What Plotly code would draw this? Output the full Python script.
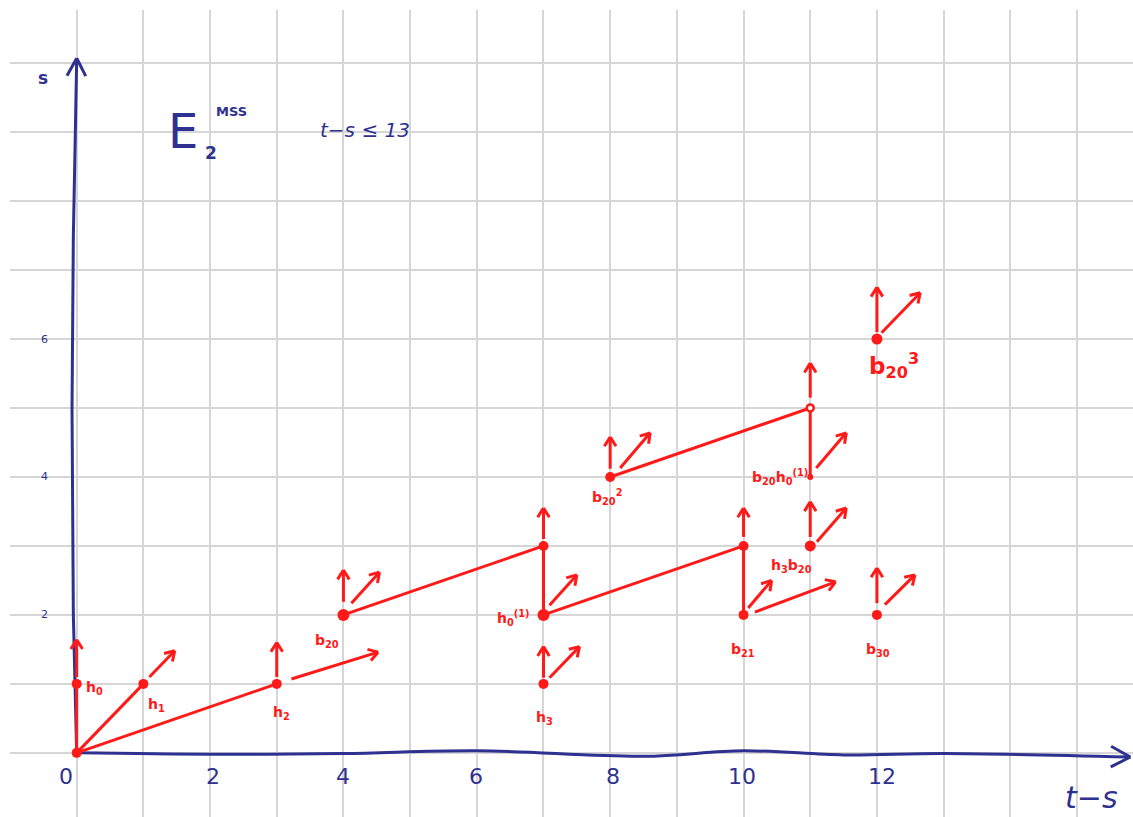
import numpy as np
import plotly.graph_objects as go

# ---- E2 page of the spectral sequence (t-s on x, s on y) ----
# classes (dots)
dot_ts = [0, 0, 1, 3, 4, 7, 7, 7, 8, 10, 10, 11, 11, 12, 12]
dot_s = [0, 1, 1, 1, 2, 1, 2, 3, 4, 2, 3, 3, 4, 2, 6]
dot_size = [10, 10, 10, 10, 12, 10, 12, 10, 10, 10, 10, 11, 6, 10, 11]

# open class at (11, 5)
open_ts = [11]
open_s = [5]

# multiplication lines: (ts0, s0, ts1, s1)
line_ts0 = [0, 0, 0, 4, 7, 7, 10, 8, 11]
line_s0 = [0, 0, 0, 2, 2, 2, 2, 4, 4]
line_ts1 = [0, 1, 3, 7, 7, 10, 10, 11, 11]
line_s1 = [1, 1, 1, 3, 3, 3, 3, 5, 5]

# arrows continuing towers / products: tail -> tip
arr_ts0 = [0, 1.09, 3, 3.22, 4, 4.12, 7, 7.09, 7.09, 7, 10.07, 10.17, 10, 8, 8.15,
           11, 11.09, 11, 11.1, 12, 12.12, 12, 12.07]
arr_s0 = [1.1, 1.1, 1.1, 1.07, 2.19, 2.17, 1.09, 1.09, 2.14, 3.1, 2.1, 2.04, 3.13, 4.12, 4.13,
          5.15, 4.13, 3.13, 3.06, 2.17, 2.15, 6.1, 6.09]
arr_ts1 = [0, 1.47, 3, 4.52, 4, 4.54, 7, 7.54, 7.5, 7, 10.42, 11.38, 10, 8, 8.6,
           11, 11.54, 11, 11.54, 12, 12.57, 12, 12.65]
arr_s1 = [1.64, 1.48, 1.6, 1.46, 2.65, 2.62, 1.54, 1.54, 2.58, 3.55, 2.5, 2.48, 3.55, 4.58, 4.64,
          5.65, 4.64, 3.64, 3.55, 2.68, 2.58, 6.75, 6.67]

# class names
lab_text = ["h<sub>0</sub>", "h<sub>1</sub>", "h<sub>2</sub>", "b<sub>20</sub>", "h<sub>3</sub>",
            "h<sub>0</sub><sup>(1)</sup>", "b<sub>21</sub>", "b<sub>30</sub>",
            "h<sub>3</sub>b<sub>20</sub>", "b<sub>20</sub>h<sub>0</sub><sup>(1)</sup>",
            "b<sub>20</sub><sup>2</sup>"]
lab_ts = [0.27, 1.2, 3.07, 3.75, 7.02, 6.55, 9.99, 12.01, 10.72, 10.55, 7.96]
lab_s = [0.94, 0.7, 0.58, 1.62, 0.51, 1.95, 1.49, 1.49, 2.71, 4.0, 3.71]

# hand-drawn axes (waypoints)
xaxis_ts = [0, 2, 4, 6, 8.5, 10, 11.5, 13, 15.8]
xaxis_s = [0, -0.02, -0.01, 0.03, -0.05, 0.03, -0.03, -0.01, -0.06]
yaxis_ts = [0.0, -0.05, -0.07, -0.05, -0.02, 0.0]
yaxis_s = [0.0, 2.0, 5.0, 7.5, 9.0, 10.07]

# axis labels
xtick_vals = [0, 2, 4, 6, 8, 10, 12]
xtick_pos = [-0.16, 2.04, 3.99, 5.99, 8.04, 9.98, 12.07]
ytick_vals = [2, 4, 6]

RED = "#FF1A1A"
BLUE = "#2E318F"
FONT = "DejaVu Sans"
W, H = 1133, 817
ML, MR, MT, MB = 10, 0, 10, 0
X_RANGE = [-1.0, 15.84]
Y_RANGE = [-0.93, 10.77]
PX_X = (W - ML - MR) / (X_RANGE[1] - X_RANGE[0])
PX_S = (H - MT - MB) / (Y_RANGE[1] - Y_RANGE[0])


def v_heads(x0, y0, x1, y1, length=12, angle=30):
    """Open V arrowheads at (x1, y1), built in screen space."""
    xs, ys = [], []
    a = np.radians(angle)
    for a0, b0, a1, b1 in zip(x0, y0, x1, y1):
        dx = (a1 - a0) * PX_X
        dy = (b1 - b0) * PX_S
        n = np.hypot(dx, dy)
        ux, uy = dx / n, dy / n
        for sgn in (1, -1):
            c, s_ = np.cos(sgn * a), np.sin(sgn * a)
            rx = ux * c - uy * s_
            ry = ux * s_ + uy * c
            xs += [a1 - rx * length / PX_X, a1, None]
            ys += [b1 - ry * length / PX_S, b1, None]
    return xs, ys


fig = go.Figure()

# blue axes
fig.add_trace(go.Scatter(x=xaxis_ts, y=xaxis_s, mode="lines", line=dict(color=BLUE, width=3, shape="spline"),
                         hoverinfo="skip"))
fig.add_trace(go.Scatter(x=yaxis_ts, y=yaxis_s, mode="lines", line=dict(color=BLUE, width=3),
                         hoverinfo="skip"))
hx, hy = v_heads([xaxis_ts[-2]], [xaxis_s[-2]], [xaxis_ts[-1]], [xaxis_s[-1]], length=22, angle=28)
fig.add_trace(go.Scatter(x=hx, y=hy, mode="lines", line=dict(color=BLUE, width=3), hoverinfo="skip"))
hx, hy = v_heads([yaxis_ts[-2]], [yaxis_s[-2]], [yaxis_ts[-1]], [yaxis_s[-1]], length=20, angle=28)
fig.add_trace(go.Scatter(x=hx, y=hy, mode="lines", line=dict(color=BLUE, width=3), hoverinfo="skip"))

# multiplication lines
lx, ly = [], []
for a0, b0, a1, b1 in zip(line_ts0, line_s0, line_ts1, line_s1):
    lx += [a0, a1, None]
    ly += [b0, b1, None]
fig.add_trace(go.Scatter(x=lx, y=ly, mode="lines", line=dict(color=RED, width=3), hoverinfo="skip"))

# arrows
ax, ay = [], []
for a0, b0, a1, b1 in zip(arr_ts0, arr_s0, arr_ts1, arr_s1):
    ax += [a0, a1, None]
    ay += [b0, b1, None]
fig.add_trace(go.Scatter(x=ax, y=ay, mode="lines", line=dict(color=RED, width=3), hoverinfo="skip"))
hx, hy = v_heads(arr_ts0, arr_s0, arr_ts1, arr_s1, length=11, angle=32)
fig.add_trace(go.Scatter(x=hx, y=hy, mode="lines", line=dict(color=RED, width=3), hoverinfo="skip"))

# classes
fig.add_trace(go.Scatter(x=dot_ts, y=dot_s, mode="markers",
                         marker=dict(color=RED, size=dot_size, opacity=1, line=dict(width=0)),
                         hoverinfo="skip"))
fig.add_trace(go.Scatter(x=open_ts, y=open_s, mode="markers",
                         marker=dict(color="white", size=7, symbol="circle", opacity=1,
                                     line=dict(color=RED, width=2.5)),
                         hoverinfo="skip"))

# class labels
for t, xx, yy in zip(lab_text, lab_ts, lab_s):
    fig.add_annotation(x=xx, y=yy, text="<b>" + t + "</b>", showarrow=False,
                       font=dict(family=FONT, size=14, color=RED))
fig.add_annotation(x=12.26, y=5.62, text="<b>b<sub>20</sub><sup>3</sup></b>", showarrow=False,
                   font=dict(family=FONT, size=23, color=RED))

# axis numbers and titles
for v, p in zip(xtick_vals, xtick_pos):
    fig.add_annotation(x=p, y=-0.34, text=str(v), showarrow=False,
                       font=dict(family=FONT, size=22, color=BLUE))
for v in ytick_vals:
    fig.add_annotation(x=-0.49, y=v, text=str(v), showarrow=False,
                       font=dict(family=FONT, size=11, color=BLUE))
fig.add_annotation(x=-0.51, y=9.78, text="<b>s</b>", showarrow=False,
                   font=dict(family=FONT, size=17, color=BLUE))
fig.add_annotation(x=15.22, y=-0.64, text="<i>t−s</i>", showarrow=False,
                   font=dict(family=FONT, size=30, color=BLUE))
fig.add_annotation(x=1.6, y=9.02, text="E", showarrow=False,
                   font=dict(family=FONT, size=48, color=BLUE))
fig.add_annotation(x=2.02, y=8.7, text="<b>2</b>", showarrow=False,
                   font=dict(family=FONT, size=17, color=BLUE))
fig.add_annotation(x=2.32, y=9.3, text="<b>MSS</b>", showarrow=False,
                   font=dict(family=FONT, size=13, color=BLUE))
fig.add_annotation(x=4.32, y=9.03, text="<i>t−s ≤ 13</i>", showarrow=False,
                   font=dict(family=FONT, size=20, color=BLUE))

fig.update_layout(
    width=W, height=H,
    margin=dict(l=ML, r=MR, t=MT, b=MB),
    paper_bgcolor="white", plot_bgcolor="white",
    showlegend=False,
    hovermode=False,
    xaxis=dict(range=X_RANGE, dtick=1, tick0=0, showgrid=True, gridcolor="#D6D6D6", gridwidth=2,
               showticklabels=False, zeroline=False, showline=False, ticks=""),
    yaxis=dict(range=Y_RANGE, dtick=1, tick0=0, showgrid=True, gridcolor="#D6D6D6", gridwidth=2,
               showticklabels=False, zeroline=False, showline=False, ticks=""),
)

fig.write_html("out.html", config={"displayModeBar": False})
